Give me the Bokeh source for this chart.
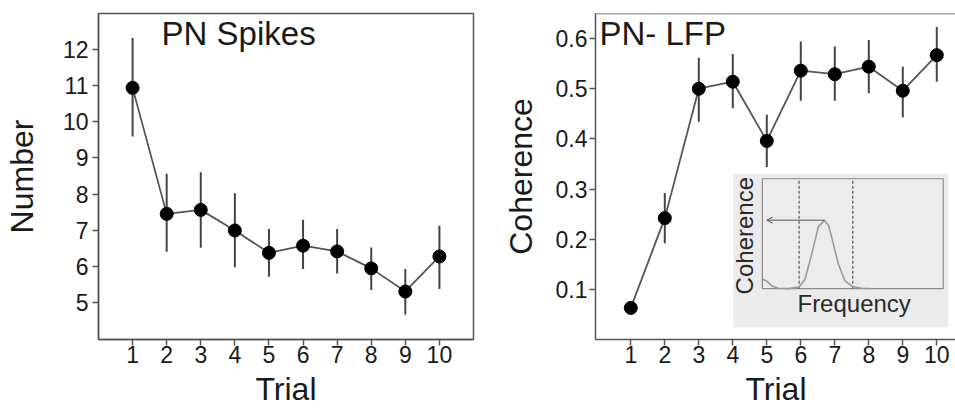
from math import pi
from bokeh.plotting import figure
from bokeh.models import FixedTicker, Label, Span, Arrow, OpenHead, Range1d, Title
from bokeh.layouts import row
from bokeh.embed import file_html
from bokeh.resources import INLINE

# ---------------- data ----------------
trials = [1, 2, 3, 4, 5, 6, 7, 8, 9, 10]

spikes_mean = [10.94, 7.45, 7.56, 6.99, 6.37, 6.57, 6.41, 5.94, 5.30, 6.27]
spikes_upper = [12.32, 8.56, 8.60, 8.02, 7.03, 7.29, 7.03, 6.52, 5.92, 7.12]
spikes_lower = [9.59, 6.40, 6.51, 5.97, 5.71, 5.92, 5.80, 5.34, 4.66, 5.37]
spikes_yticks = [5, 6, 7, 8, 9, 10, 11, 12]

coh_mean = [0.063, 0.242, 0.500, 0.514, 0.396, 0.536, 0.529, 0.544, 0.496, 0.567]
coh_upper = [0.063, 0.292, 0.562, 0.569, 0.448, 0.594, 0.584, 0.597, 0.544, 0.623]
coh_lower = [0.063, 0.192, 0.434, 0.461, 0.344, 0.476, 0.476, 0.491, 0.443, 0.514]
coh_yticks = [0.1, 0.2, 0.3, 0.4, 0.5, 0.6]

# schematic inset (frequency 0-100, coherence 0-1 of the inset box)
inset_freq = [0, 2.4, 5.2, 8.8, 14.4, 20.3, 23.6, 27.3, 30.9, 34.3, 36.5, 38.3, 42.0, 45.7, 49.7, 54.9, 59.5]
inset_coh = [0.086, 0.07, 0.025, 0.003, 0.0, 0.015, 0.086, 0.316, 0.56, 0.623, 0.577, 0.47, 0.224, 0.07, 0.02, 0.003, 0.0]
inset_band = [20.3, 50.0]
inset_arrow_end = 2.4

FONT = "Liberation Sans"
AX = "#555555"
TXT = "#1a1a1a"


def style(p, yticks):
    p.xaxis.ticker = FixedTicker(ticks=trials)
    p.yaxis.ticker = FixedTicker(ticks=yticks)
    for ax in p.axis:
        ax.major_label_text_font = FONT
        ax.major_label_text_font_size = "23px"
        ax.major_label_text_color = TXT
        ax.axis_line_color = AX
        ax.axis_line_width = 1.5
        ax.major_tick_line_color = AX
        ax.major_tick_line_width = 1.5
        ax.major_tick_in = 0
        ax.major_tick_out = 6
        ax.minor_tick_line_color = None
        ax.major_label_standoff = 2
        ax.axis_label_text_font = FONT
        ax.axis_label_text_font_size = "32px"
        ax.axis_label_text_font_style = "normal"
        ax.axis_label_text_color = TXT
    p.xaxis.major_label_standoff = 0
    p.xgrid.visible = False
    p.ygrid.visible = False
    p.background_fill_color = "white"
    p.border_fill_color = "white"


def x_title(p, offset):
    p.add_layout(Title(text="Trial", align="center", offset=offset, standoff=6,
                       text_font=FONT, text_font_size="32px", text_font_style="normal",
                       text_color=TXT), "below")


def draw_series(p, mean, lower, upper):
    p.segment(x0=trials, y0=lower, x1=trials, y1=upper, line_color="#444444", line_width=2)
    p.line(trials, mean, line_color="#555555", line_width=1.8)
    p.scatter(trials, mean, size=13, fill_color="black", line_color="black")


# ---------------- left panel ----------------
p1 = figure(x_range=Range1d(0, 11), y_range=Range1d(3.97, 13.0),
            frame_width=375, frame_height=326,
            min_border_left=97, min_border_right=8, min_border_top=13, min_border_bottom=71,
            output_backend="svg", toolbar_location=None)
style(p1, spikes_yticks)
p1.outline_line_color = AX
p1.outline_line_width = 1.5
p1.outline_line_alpha = 1.0
p1.yaxis.axis_label = "Number"
p1.yaxis.major_label_standoff = 4
p1.yaxis.axis_label_standoff = 20
x_title(p1, 5)
draw_series(p1, spikes_mean, spikes_lower, spikes_upper)
p1.add_layout(Label(x=1.85, y=12.447, text="PN Spikes", text_font=FONT, text_font_size="33px",
                    text_color=TXT, text_align="left", text_baseline="middle"))

# ---------------- right panel ----------------
p2 = figure(x_range=Range1d(-0.038, 10.58), y_range=Range1d(0.0, 0.65),
            frame_width=361, frame_height=326,
            min_border_left=114, min_border_right=0, min_border_top=13, min_border_bottom=71,
            output_backend="svg", toolbar_location=None)
style(p2, coh_yticks)
p2.outline_line_color = None
p2.yaxis.axis_label = "Coherence"
p2.yaxis.axis_label_standoff = 14
x_title(p2, 9)
p2.add_layout(Span(location=0.65, dimension="width", line_color=AX, line_width=1.5))

# inset geometry (in host data coordinates)
IN_OUT = dict(left=4.02, right=10.34, bottom=0.024, top=0.3305)
IN_BOX = dict(left=4.87, right=10.19, bottom=0.1014, top=0.3205)


def ix(f):
    return IN_BOX["left"] + f / 100.0 * (IN_BOX["right"] - IN_BOX["left"])


def iy(c):
    return IN_BOX["bottom"] + c * (IN_BOX["top"] - IN_BOX["bottom"])


p2.quad(left=[IN_OUT["left"]], right=[IN_OUT["right"]], bottom=[IN_OUT["bottom"]], top=[IN_OUT["top"]],
        fill_color="#ebebeb", line_color=None)
p2.quad(left=[IN_BOX["left"]], right=[IN_BOX["right"]], bottom=[IN_BOX["bottom"]], top=[IN_BOX["top"]],
        fill_color="#ececec", line_color="#8a8a8a", line_width=1.2)
band_x = [ix(f) for f in inset_band]
p2.segment(x0=band_x, y0=[IN_BOX["bottom"]] * 2, x1=band_x, y1=[IN_BOX["top"]] * 2,
           line_color="#555555", line_width=1.2, line_dash="3 2")
p2.line([ix(f) for f in inset_freq], [iy(c) for c in inset_coh], line_color="#9a9a9a", line_width=1.6)
peak_i = inset_coh.index(max(inset_coh))
p2.add_layout(Arrow(x_start=ix(inset_freq[peak_i]), y_start=iy(inset_coh[peak_i]),
                    x_end=ix(inset_arrow_end), y_end=iy(inset_coh[peak_i]),
                    line_color="#555555", line_width=1,
                    end=OpenHead(size=6, line_color="#555555", line_width=1)))
p2.add_layout(Label(x=4.344, y=0.207, text="Coherence", angle=pi / 2, text_font=FONT, text_font_size="24px",
                    text_color="#2a2a2a", text_align="center", text_baseline="middle"))
p2.add_layout(Label(x=7.57, y=0.0709, text="Frequency", text_font=FONT, text_font_size="24px",
                    text_color="#2a2a2a", text_align="center", text_baseline="middle"))

draw_series(p2, coh_mean, coh_lower, coh_upper)
p2.add_layout(Label(x=0.08, y=0.610, text="PN- LFP", text_font=FONT, text_font_size="33px",
                    text_color=TXT, text_align="left", text_baseline="middle"))

layout = row(p1, p2)
open("out.html", "w").write(file_html(layout, INLINE))
